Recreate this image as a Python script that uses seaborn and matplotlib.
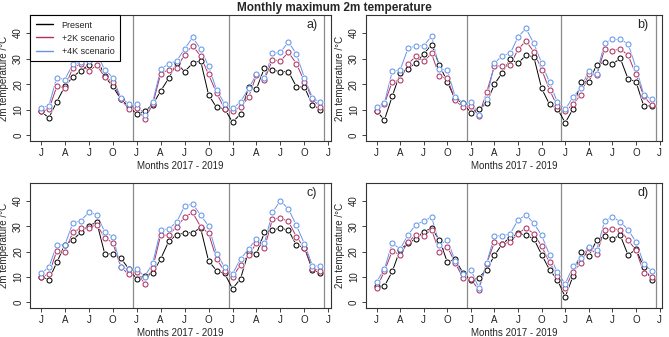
import matplotlib
matplotlib.use("Agg")
import matplotlib.pyplot as plt
import numpy as np
import pandas as pd
import seaborn as sns

# monthly max 2m temperature, Jan 2017 - Dec 2019 (36 months) per panel
present_a = [9.4, 6.8, 13.2, 19.1, 22.9, 25.3, 27.5, 30.3, 23.0, 19.1, 14.2, 11.3,
             8.3, 9.4, 12.0, 17.3, 22.3, 28.2, 24.9, 28.2, 29.2, 15.8, 10.9, 10.4,
             5.1, 8.3, 18.7, 18.2, 26.4, 25.5, 24.9, 24.9, 19.0, 18.8, 12.0, 10.0]
plus2k_a = [9.4, 10.1, 19.2, 18.6, 26.4, 27.9, 25.1, 27.5, 22.7, 21.0, 14.2, 10.3,
            10.8, 6.2, 12.1, 24.0, 25.7, 26.2, 31.6, 35.1, 31.0, 23.8, 16.5, 10.4,
            9.6, 10.9, 14.9, 23.5, 21.8, 29.5, 29.1, 32.5, 28.0, 21.0, 14.2, 11.0]
plus4k_a = [10.8, 11.6, 22.6, 21.8, 27.8, 28.6, 29.1, 32.0, 25.6, 22.6, 14.7, 12.3,
            12.2, 7.8, 12.9, 25.8, 28.0, 29.1, 33.8, 38.3, 33.8, 27.0, 17.8, 12.3,
            10.5, 13.0, 18.3, 23.8, 22.5, 32.0, 32.5, 36.5, 31.8, 22.5, 14.7, 12.9]

present_b = [9.5, 6.0, 15.3, 24.3, 26.0, 28.4, 31.8, 35.5, 27.4, 21.0, 14.0, 12.7,
             8.8, 10.1, 12.6, 20.0, 24.5, 29.8, 28.2, 31.3, 30.7, 18.3, 12.1, 10.4,
             4.9, 10.3, 21.0, 21.0, 27.5, 28.7, 27.8, 30.1, 22.0, 21.0, 11.3, 11.6]
plus2k_b = [9.4, 12.3, 21.0, 21.5, 27.8, 31.0, 29.0, 32.0, 23.0, 22.3, 13.6, 11.0,
            11.5, 7.6, 16.8, 27.0, 27.2, 27.5, 33.6, 36.9, 32.7, 25.7, 17.8, 11.3,
            9.4, 12.2, 15.9, 24.0, 23.4, 33.6, 33.1, 33.8, 31.3, 23.8, 15.2, 11.8]
plus4k_b = [10.9, 12.6, 25.0, 25.5, 34.0, 35.0, 35.0, 38.8, 26.0, 25.6, 15.0, 12.8,
            13.2, 8.1, 14.3, 28.2, 31.2, 32.0, 38.5, 41.8, 36.0, 28.3, 20.7, 13.0,
            10.1, 15.0, 18.5, 25.3, 23.8, 36.1, 37.5, 37.5, 35.8, 26.4, 15.8, 14.0]

present_c = [10.2, 8.9, 15.8, 22.7, 24.6, 27.6, 30.2, 31.5, 19.1, 19.1, 17.5, 13.2,
             9.3, 10.5, 11.6, 17.1, 24.0, 26.7, 27.3, 27.5, 29.3, 16.3, 12.5, 11.4,
             5.4, 9.3, 20.0, 19.1, 27.6, 28.5, 29.3, 28.4, 22.6, 21.6, 12.8, 11.6]
plus2k_c = [10.2, 11.0, 20.4, 19.9, 27.6, 29.2, 29.4, 30.6, 25.4, 23.5, 14.0, 11.0,
            12.0, 7.4, 13.5, 26.5, 26.4, 29.8, 33.5, 35.4, 29.8, 27.2, 17.1, 12.3,
            9.9, 14.9, 18.6, 23.3, 21.4, 32.8, 33.2, 31.9, 25.8, 21.6, 13.3, 12.5]
plus4k_c = [11.4, 13.8, 22.7, 22.6, 31.2, 32.2, 35.4, 34.6, 27.7, 25.9, 14.0, 13.1,
            13.2, 10.2, 15.4, 28.5, 28.9, 31.6, 37.9, 38.8, 34.4, 30.1, 19.1, 14.0,
            11.2, 17.1, 21.0, 25.1, 23.4, 35.4, 40.1, 36.7, 30.3, 23.1, 14.5, 14.2]

present_d = [6.5, 6.4, 12.2, 20.8, 23.2, 25.1, 27.9, 29.1, 24.6, 15.9, 16.9, 11.6,
             8.7, 9.7, 12.9, 18.5, 23.1, 25.5, 27.2, 26.4, 25.1, 18.8, 12.9, 8.9,
             2.2, 10.4, 19.8, 18.4, 24.4, 26.1, 25.1, 26.4, 18.6, 20.9, 13.9, 9.0]
plus2k_d = [5.6, 12.3, 20.3, 18.7, 23.7, 26.6, 26.3, 28.5, 19.9, 22.0, 15.5, 9.7,
            9.1, 5.0, 15.3, 23.7, 22.8, 23.9, 27.0, 29.4, 27.0, 22.1, 15.8, 10.5,
            5.6, 12.1, 15.5, 21.5, 19.1, 28.5, 29.0, 28.6, 24.4, 20.7, 11.6, 10.2]
plus4k_d = [8.0, 13.2, 23.3, 21.0, 26.6, 30.6, 32.0, 33.6, 22.7, 24.6, 16.3, 11.0,
            12.9, 5.8, 15.5, 26.2, 26.2, 27.0, 32.5, 34.4, 31.2, 26.4, 18.7, 11.8,
            7.3, 14.2, 17.6, 22.0, 20.7, 31.9, 33.7, 31.7, 28.6, 23.8, 15.2, 12.3]

panels = {
    "a)": (present_a, plus2k_a, plus4k_a),
    "b)": (present_b, plus2k_b, plus4k_b),
    "c)": (present_c, plus2k_c, plus4k_c),
    "d)": (present_d, plus2k_d, plus4k_d),
}
series_names = ["Present", "+2K scenario", "+4K scenario"]
colors = ["black", "#B03060", "#6495ED"]
tick_labels = ["J", "A", "J", "O"] * 3 + ["J"]

sns.set_style("ticks")
plt.rcParams["font.family"] = ["Liberation Sans", "DejaVu Sans"]

fig = plt.figure(figsize=(6.69, 3.37), dpi=100)
positions = [
    [0.045, 0.582, 0.450, 0.373],
    [0.547, 0.582, 0.443, 0.373],
    [0.045, 0.086, 0.450, 0.371],
    [0.547, 0.086, 0.443, 0.371],
]

months = np.arange(36)

for pos, (label, vals) in zip(positions, panels.items()):
    ax = fig.add_axes(pos)
    df = pd.DataFrame({
        "month": np.tile(months, 3),
        "temp": np.concatenate(vals),
        "series": np.repeat(series_names, 36),
    })
    # lines first, then a white halo round each point (R type="b" look), then open circles
    for name, col in zip(series_names, colors):
        sub = df[df["series"] == name]
        sns.lineplot(data=sub, x="month", y="temp", color=col, lw=0.7,
                     ax=ax, zorder=2, legend=False)
    for name, col in zip(series_names, colors):
        sub = df[df["series"] == name]
        sns.lineplot(data=sub, x="month", y="temp", ax=ax, linestyle="",
                     marker="o", markersize=3.6, markerfacecolor="white",
                     markeredgecolor="white", markeredgewidth=1.8, zorder=3,
                     legend=False)
    for name, col in zip(series_names, colors):
        sub = df[df["series"] == name]
        sns.lineplot(data=sub, x="month", y="temp", ax=ax, linestyle="",
                     marker="o", markersize=3.6, markerfacecolor="white",
                     markeredgecolor=col, markeredgewidth=0.75, zorder=4,
                     legend=False)

    for xv in [11.5, 23.5, 35.5]:
        ax.axvline(xv, color="#8a8a8a", lw=0.9, zorder=1)

    ax.set_xlim(-1.35, 36.35)
    ax.set_ylim(-2.2, 47)
    ax.set_xticks(np.arange(0, 37, 3))
    ax.set_xticklabels(tick_labels)
    ax.set_yticks([0, 10, 20, 30, 40])
    ax.set_yticklabels(["0", "10", "20", "30", "40"], rotation=90, va="center")
    ax.tick_params(labelsize=7, length=3, width=0.6, pad=2, colors="#222222")
    for sp in ax.spines.values():
        sp.set_linewidth(0.8)
        sp.set_color("#333333")
    ax.set_xlabel("Months 2017 - 2019", fontsize=7, labelpad=2)
    ax.set_ylabel("2m temperature /\u00b0C", fontsize=7, labelpad=3)
    ax.text(34.6, 43, label, ha="right", va="center", fontsize=9)

    if label == "a)":
        handles = [plt.Line2D([], [], color=c, lw=1.0) for c in colors]
        leg = ax.legend(handles, series_names, loc="upper left", fontsize=6.5,
                        frameon=True, fancybox=False, borderaxespad=0,
                        handlelength=1.9, borderpad=0.6, labelspacing=0.45,
                        handletextpad=1.0, framealpha=1)
        leg.get_frame().set_edgecolor("black")
        leg.get_frame().set_linewidth(0.8)
        leg.set_zorder(10)

fig.suptitle("Monthly maximum 2m temperature", fontsize=8.5,
             fontweight="bold", y=0.995)

plt.savefig("out.png", dpi=100)
